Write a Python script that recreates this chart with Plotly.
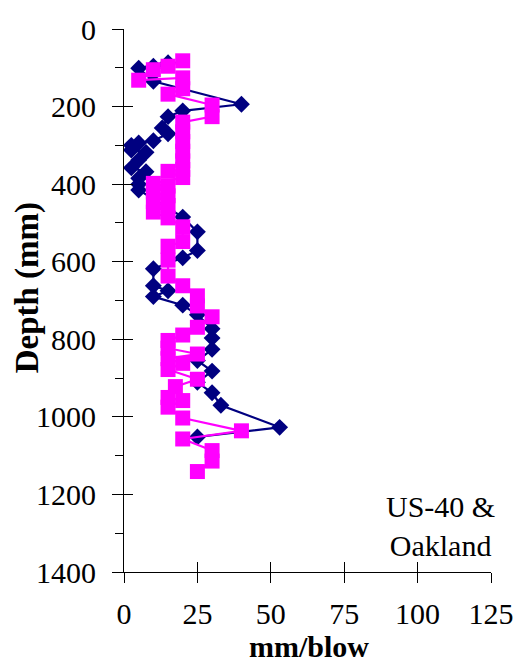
import plotly.graph_objects as go

# Penetration rate (mm/blow) against depth (mm) for the two soundings
navy_rate = [15, 10, 5, 10, 40, 20, 15, 13, 15, 10,
             5, 2.5, 2.5, 7.5, 5, 2.5, 7.5, 5, 5, 5,
             20, 25, 25, 20, 10, 10, 15, 10, 20, 25,
             30, 30, 30, 25, 30, 25, 30, 33, 53, 25]
navy_depth = [87, 96, 101, 135, 194, 211, 226, 255, 270, 288,
              294, 300, 312, 318, 338, 358, 368, 385, 400, 415,
              485, 523, 571, 590, 618, 662, 675, 690, 712, 737,
              773, 797, 826, 855, 882, 911, 938, 970, 1027, 1052]

pink_rate = [20, 15, 10, 5, 20, 20, 15, 30, 30, 20,
             20, 20, 20, 20, 20, 15, 20, 10, 15, 10,
             15, 10, 15, 10, 15, 20, 20, 15, 15, 15,
             20, 25, 25, 30, 25, 20, 15, 15, 25, 15,
             20, 15, 25, 17.5, 15, 20, 15, 20, 40, 20,
             30, 30, 25]
pink_depth = [82, 96, 105, 132, 126, 154, 168, 196, 226, 240,
              265, 290, 315, 340, 362, 367, 383, 398, 405, 420,
              430, 445, 455, 472, 487, 510, 548, 560, 596, 637,
              662, 688, 714, 742, 769, 789, 803, 823, 838, 850,
              862, 878, 903, 922, 950, 958, 975, 1003, 1036, 1057,
              1087, 1114, 1141]

x_ticks = [0, 25, 50, 75, 100, 125]
y_ticks = [0, 200, 400, 600, 800, 1000, 1200, 1400]

FONT = "Liberation Serif, Times New Roman, serif"
NAVY = "#000080"
PINK = "#FF00FF"

fig = go.Figure()
fig.add_trace(go.Scatter(
    x=navy_rate, y=navy_depth, mode="lines+markers",
    line=dict(color=NAVY, width=2.2),
    marker=dict(symbol="diamond", size=13, color=NAVY),
    showlegend=False, cliponaxis=False))
fig.add_trace(go.Scatter(
    x=pink_rate, y=pink_depth, mode="lines+markers",
    line=dict(color=PINK, width=2.2),
    marker=dict(symbol="square", size=15, color=PINK),
    showlegend=False, cliponaxis=False))
# empty trace carrying the overlay axes used for the inward tick marks
fig.add_trace(go.Scatter(x=[], y=[], xaxis="x2", yaxis="y2", showlegend=False))

tickfont = dict(family=FONT, size=30, color="black")

fig.update_layout(
    width=526, height=662,
    margin=dict(l=124, r=32, t=22, b=90),
    paper_bgcolor="white", plot_bgcolor="white",
    xaxis=dict(range=[0, 125], tickvals=x_ticks, ticks="outside", ticklen=10,
               tickwidth=1, tickcolor="black", showline=True, linecolor="black",
               linewidth=1, showgrid=False, zeroline=False, tickfont=tickfont,
               ticklabelstandoff=5),
    yaxis=dict(range=[1400, 0], tickvals=y_ticks, ticks="outside", ticklen=11,
               tickwidth=1, tickcolor="black", showline=True, linecolor="black",
               linewidth=1, showgrid=False, zeroline=False, tickfont=tickfont,
               ticklabelstandoff=10,
               minor=dict(dtick=100, tick0=0, ticks="outside", ticklen=8,
                          tickcolor="black", tickwidth=1, showgrid=False)),
    xaxis2=dict(range=[0, 125], tickvals=x_ticks, ticks="inside", ticklen=10,
                tickcolor="black", showticklabels=False, showline=False,
                showgrid=False, zeroline=False, overlaying="x", anchor="y2"),
    yaxis2=dict(range=[1400, 0], tickvals=y_ticks, ticks="inside", ticklen=9,
                tickcolor="black", showticklabels=False, showline=False,
                showgrid=False, zeroline=False, overlaying="y", anchor="x2"),
    annotations=[
        dict(text="<b>Depth (mm)</b>", xref="paper", yref="paper",
             x=-0.262, y=0.524, textangle=-90, showarrow=False,
             xanchor="center", yanchor="middle",
             font=dict(family=FONT, size=33, color="black")),
        dict(text="<b>mm/blow</b>", xref="paper", yref="paper",
             x=0.503, y=-0.138, showarrow=False, xanchor="center",
             yanchor="middle", font=dict(family=FONT, size=30, color="black")),
        dict(text="US-40 &amp;<br>Oakland", xref="paper", yref="paper",
             x=0.862, y=0.084, showarrow=False, xanchor="center",
             yanchor="middle", align="center",
             font=dict(family=FONT, size=30, color="black")),
    ],
)

fig.write_html("out.html")
